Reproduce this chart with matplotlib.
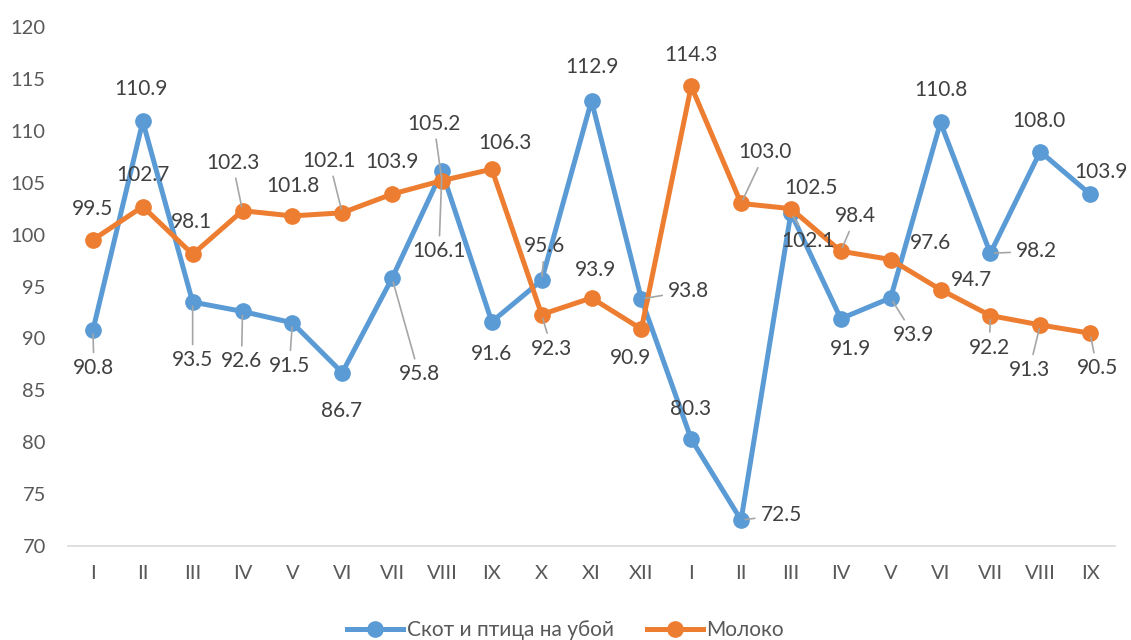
import matplotlib.pyplot as plt
import numpy as np

plt.rcParams['font.family'] = ['Lato', 'DejaVu Sans']

months = ['I', 'II', 'III', 'IV', 'V', 'VI', 'VII', 'VIII', 'IX', 'X', 'XI', 'XII',
          'I', 'II', 'III', 'IV', 'V', 'VI', 'VII', 'VIII', 'IX']
livestock = [90.8, 110.9, 93.5, 92.6, 91.5, 86.7, 95.8, 106.1, 91.6, 95.6, 112.9, 93.8,
             80.3, 72.5, 102.1, 91.9, 93.9, 110.8, 98.2, 108.0, 103.9]
milk = [99.5, 102.7, 98.1, 102.3, 101.8, 102.1, 103.9, 105.2, 106.3, 92.3, 93.9, 90.9,
        114.3, 103.0, 102.5, 98.4, 97.6, 94.7, 92.2, 91.3, 90.5]

# label offsets in pixels (dx, dy) and whether a leader line is drawn
blue_off = [(1, -38, 1), (-2, 32, 0), (0, -58, 1), (-1, -50, 1), (-3, -43, 1), (-1, -38, 0),
            (27, -96, 1), (-3, -80, 1), (0, -32, 0), (3, 34, 1), (0, 34, 0), (47, 8, 1),
            (-1, 30, 0), (40, 5, 1), (17, -28, 1), (10, -30, 0), (23, -37, 1), (0, 32, 0),
            (46, 2, 1), (-1, 31, 0), (11, 22, 0)]
orange_off = [(0, 31, 0), (0, 32, 0), (-1, 32, 0), (-10, 48, 1), (1, 30, 0), (-13, 52, 1),
              (0, 32, 0), (-8, 57, 1), (13, 26, 0), (10, -34, 1), (4, 28, 0), (-11, -29, 0),
              (0, 31, 0), (24, 51, 1), (20, 21, 0), (15, 35, 1), (40, 17, 0), (31, 10, 0),
              (-1, -32, 1), (-11, -45, 1), (7, -35, 1)]

blue = '#5B9BD5'
orange = '#ED7D31'

fig = plt.figure(figsize=(11.31, 6.4), dpi=100)
ax = fig.add_axes([68 / 1131, 1 - 546 / 640, 1047 / 1131, 519 / 640])

x = np.arange(len(months))
ax.plot(x, livestock, color=blue, lw=3.6, marker='o', ms=11, label='Скот и птица на убой', zorder=3)
ax.plot(x, milk, color=orange, lw=3.6, marker='o', ms=11, label='Молоко', zorder=3)

for vals, offs in ((livestock, blue_off), (milk, orange_off)):
    for i, (v, (dx, dy, lead)) in enumerate(zip(vals, offs)):
        kw = {}
        if lead:
            kw['arrowprops'] = dict(arrowstyle='-', color='#A6A6A6', lw=1.2,
                                    shrinkA=2, shrinkB=3)
        ax.annotate(f'{v:.1f}', xy=(i, v), xytext=(dx, dy), textcoords='offset pixels',
                    ha='center', va='center', fontsize=15, color='#404040', zorder=4, **kw)

ax.set_xlim(-0.5, len(months) - 0.5)
ax.set_ylim(70, 120)
ax.set_yticks(range(70, 121, 5))
ax.set_xticks(x)
ax.set_xticklabels(months)
ax.tick_params(axis='both', length=0, labelsize=14.5, colors='#595959')
ax.tick_params(axis='x', pad=14)
ax.tick_params(axis='y', pad=16)
for s in ['top', 'right', 'left']:
    ax.spines[s].set_visible(False)
ax.spines['bottom'].set_color('#D9D9D9')
ax.spines['bottom'].set_linewidth(1.2)

fig.legend(loc='lower center', bbox_to_anchor=(0.5, -0.03), ncol=2, frameon=False,
           fontsize=15, labelcolor='#595959', handlelength=2.7, handletextpad=0.15,
           columnspacing=1.6)

fig.savefig('out.png', dpi=100)
